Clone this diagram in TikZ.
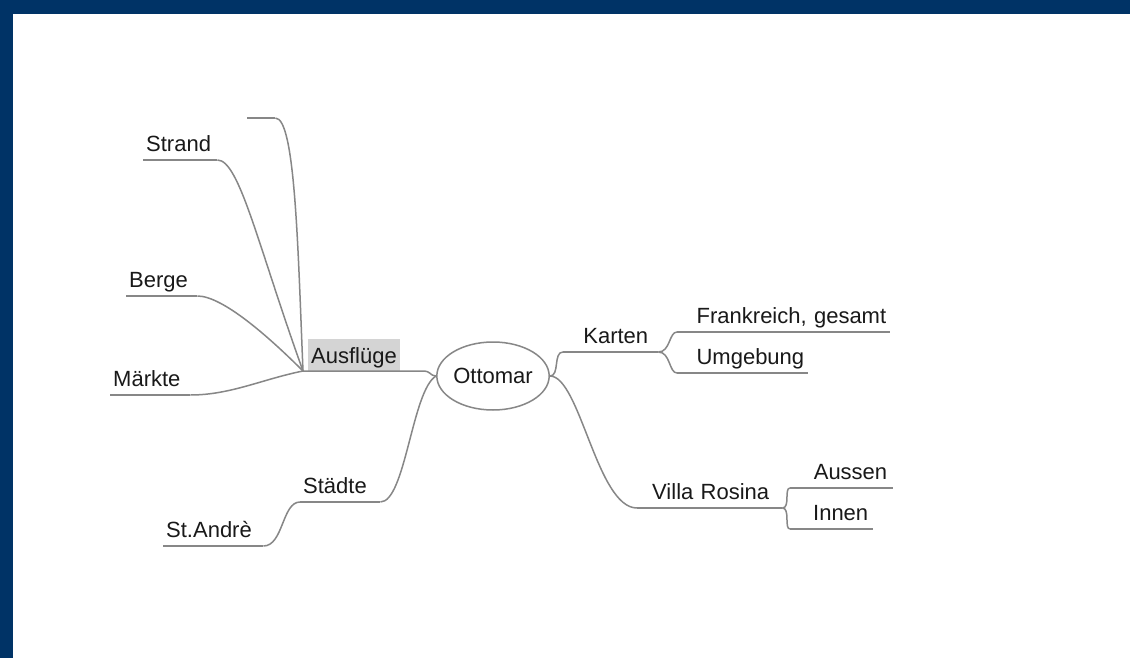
\documentclass[tikz,border=0pt]{standalone}
\usepackage{fontspec}
\setmainfont{Liberation Sans}
\usetikzlibrary{shapes.geometric}
\definecolor{framecol}{RGB}{0,51,102}
\definecolor{linecol}{RGB}{135,135,135}
\definecolor{boxcol}{RGB}{212,212,212}
\definecolor{textcol}{RGB}{25,25,25}
\tikzset{
  topic/.style={anchor=south west, inner xsep=3pt, inner ysep=3pt,
    text height=16pt, text depth=5pt, text width=#1, align=left, text=textcol},
  rtopic/.style={topic=#1, inner xsep=4pt, align=right},
  branch/.style={draw=linecol, line width=1.5pt},
}
\begin{document}
\begin{tikzpicture}[x=1pt,y=-1pt,font=\fontsize{22}{26}\selectfont]
\useasboundingbox (0,0) rectangle (1130,658);
\fill[white] (0,0) rectangle (1130,658);
\fill[framecol] (0,0) rectangle (1130,14);
\fill[framecol] (0,0) rectangle (13,658);

% centre
\node[ellipse, draw=linecol, line width=1.5pt, minimum width=103pt,
  minimum height=68pt, inner sep=0pt, text=textcol] (ottomar) at (493,376) {Ottomar};

% left side
\node[fill=boxcol, anchor=south west, inner sep=3pt, text height=22pt,
  text depth=4pt, text=textcol] (ausfluege) at (308,371) {Ausflüge};
\coordinate (hub) at (303,371);
\node[topic=22pt] (leer) at (247,118) {};
\node[topic=68pt] (strand) at (143,160) {Strand};
\node[topic=65pt] (berge) at (126,296) {Berge};
\node[topic=74pt] (maerkte) at (110,395) {Märkte};
\node[topic=74pt] (staedte) at (300,502) {Städte};
\node[topic=94pt] (standre) at (163,546) {St.Andrè};

% right side
\node[rtopic=75pt, inner xsep=10pt] (karten) at (563,352) {Karten};
\node[rtopic=205pt] (frankreich) at (677,332) {Frankreich, gesamt};
\node[rtopic=123pt] (umgebung) at (677,373) {Umgebung};
\node[rtopic=119pt, inner xsep=13pt] (villa) at (637,508) {Villa Rosina};
\node[rtopic=91pt, inner xsep=6pt] (aussen) at (790,488) {Aussen};
\node[rtopic=73pt, inner xsep=5pt] (innen) at (790,529) {Innen};

% underlines
\foreach \n in {leer,strand,berge,maerkte,staedte,standre,
    karten,frankreich,umgebung,villa,aussen,innen}
  \draw[branch] (\n.south west) -- (\n.south east);

% connectors
\draw[branch] (hub) -- (ausfluege.south east) -- ++(22,0)
  .. controls +(10,0) and +(-8,-1) .. (ottomar.west);
\draw[branch] (leer.south east) .. controls +(20,0) and +(-5,-120) .. (hub);
\draw[branch] (strand.south east) .. controls +(22,0) and +(-45,-125) .. (hub);
\draw[branch] (berge.south east) .. controls +(25,0) and +(-35,-35) .. (hub);
\draw[branch] (maerkte.south east) .. controls +(40,0) and +(-40,8) .. (hub);
\draw[branch] (staedte.south east) .. controls +(25,0) and +(-24,14) .. (ottomar.west);
\draw[branch] (standre.south east) .. controls +(20,0) and +(-18,0) .. (staedte.south west);
\draw[branch] (ottomar.east) .. controls +(10,0) and +(-10,0) .. (karten.south west);
\draw[branch] (ottomar.east) .. controls +(30,0) and +(-40,0) .. (villa.south west);
\draw[branch] (karten.south east) .. controls +(12,0) and +(-8,0) .. (frankreich.south west);
\draw[branch] (karten.south east) .. controls +(12,0) and +(-8,0) .. (umgebung.south west);
\draw[branch] (villa.south east) .. controls +(8,0) and +(-6,0) .. (aussen.south west);
\draw[branch] (villa.south east) .. controls +(8,0) and +(-6,0) .. (innen.south west);
\end{tikzpicture}
\end{document}
